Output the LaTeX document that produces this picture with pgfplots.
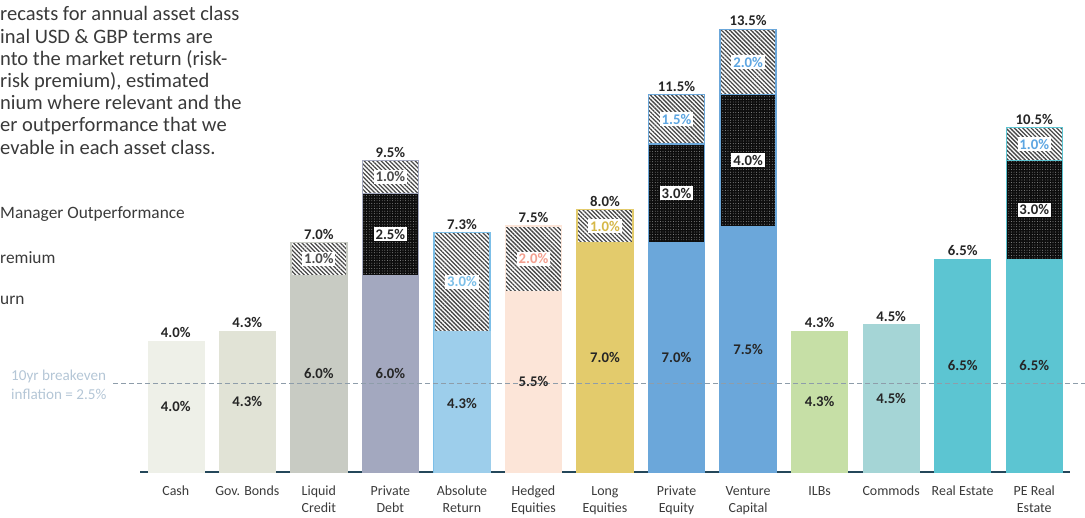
\documentclass[border=0pt]{standalone}
\usepackage{pgfplots}
\pgfplotsset{compat=1.18}
\usepackage{fontspec}
\setmainfont{Carlito}
\usetikzlibrary{patterns.meta}
\definecolor{cCash}{HTML}{EEF0E8}
\definecolor{cGov}{HTML}{E1E3D6}
\definecolor{cLiq}{HTML}{C8CBC3}
\definecolor{cPD}{HTML}{A3A8BF}
\definecolor{cAbs}{HTML}{9DCEEB}
\definecolor{cAbsB}{HTML}{7CBFE8}
\definecolor{cHed}{HTML}{FCE5D8}
\definecolor{cLong}{HTML}{E3CB6C}
\definecolor{cPE}{HTML}{6BA7DA}
\definecolor{cILB}{HTML}{C6DFA6}
\definecolor{cCom}{HTML}{A5D5D6}
\definecolor{cRE}{HTML}{5CC5D2}
\definecolor{cTxt}{HTML}{3A3A3A}
\definecolor{cBE}{HTML}{B4C6D6}
\definecolor{cDash}{HTML}{8E9DAA}
\definecolor{cAxis}{HTML}{24475A}
\definecolor{cSalmon}{HTML}{F4A090}
\definecolor{cGold}{HTML}{D6B848}
\definecolor{cBlueLab}{HTML}{5DA6E2}
\begin{document}
\begin{tikzpicture}[x=1bp,y=1bp]
\useasboundingbox (0,0) rectangle (1085,518);
% left paragraph (cropped in the original)
\begin{scope}[every node/.style={anchor=base west, inner sep=0pt, text=cTxt, font=\fontsize{20.6}{22}\selectfont}]
\node at (0,{518-21}) {recasts for annual asset class};
\node at (0,{518-43.2}) {inal USD \& GBP terms are};
\node at (0,{518-65.4}) {nto the market return (risk-};
\node at (0,{518-87.6}) {risk premium), estimated};
\node at (0,{518-109.8}) {nium where relevant and the};
\node at (0,{518-132}) {er outperformance that we};
\node at (0,{518-154.2}) {evable in each asset class.};
\end{scope}
\begin{scope}[every node/.style={anchor=base west, inner sep=0pt, text=cTxt, font=\fontsize{17.4}{22}\selectfont}]
\node at (0,{518-219}) {Manager Outperformance};
\node at (0,{518-264}) {remium};
\node at (0,{518-305}) {urn};
\end{scope}
\node[anchor=base west, inner sep=0pt, text=cBE, font=\fontsize{15.2}{17}\selectfont] at (11,{518-381}) {10yr breakeven};
\node[anchor=base west, inner sep=0pt, text=cBE, font=\fontsize{15.2}{17}\selectfont] at (11,{518-400}) {inflation = 2.5\%};
\begin{axis}[
  at={(140bp,46bp)}, anchor=south west,
  scale only axis, width=930bp, height=459.2bp,
  xmin=-0.5, xmax=12.5, ymin=0, ymax=14,
  axis x line=bottom, axis y line=none,
  x axis line style={-, draw=cAxis, line width=2bp},
  ytick=\empty,
  xtick={0,...,12},
  major tick length=0pt,
  xticklabels={Cash, Gov. Bonds, {Liquid\\Credit}, {Private\\Debt}, {Absolute\\Return}, {Hedged\\Equities}, {Long\\Equities}, {Private\\Equity}, {Venture\\Capital}, ILBs, Commods, Real Estate, {PE Real\\Estate}},
  typeset ticklabels with strut,
  xticklabel style={font=\fontsize{14}{17}\selectfont, text=cTxt, align=center, yshift=-8bp},
  ybar, bar width=56bp, bar shift=0pt,
  clip=false,
  hatch/.style={draw=#1, line width=1.3bp, pattern={Lines[angle=-45,distance=3bp,line width=1.3bp]}, pattern color=black!72},
  blk/.style={draw=#1, line width=1.3bp, fill=black!95, postaction={pattern={Dots[radius=0.45bp,distance=2.6bp]}, pattern color=gray!70}},
  base/.style={draw=#1, line width=0.5bp, fill=#1},
]
% Manager outperformance (total height)
\addplot[hatch=cLiq] coordinates {(2,7.0)};
\addplot[hatch=cPD] coordinates {(3,9.5)};
\addplot[hatch=cAbsB] coordinates {(4,7.3)};
\addplot[hatch=cHed] coordinates {(5,7.5)};
\addplot[hatch=cLong] coordinates {(6,8.0)};
\addplot[hatch=cPE] coordinates {(7,11.5)};
\addplot[hatch=cPE] coordinates {(8,13.5)};
\addplot[hatch=cRE] coordinates {(12,10.5)};
% Risk premium (base + premium)
\addplot[blk=cPD] coordinates {(3,8.5)};
\addplot[blk=cPE] coordinates {(7,10.0)};
\addplot[blk=cPE] coordinates {(8,11.5)};
\addplot[blk=cRE] coordinates {(12,9.5)};
% Market return
\addplot[base=cCash] coordinates {(0,4.0)};
\addplot[base=cGov] coordinates {(1,4.3)};
\addplot[base=cLiq] coordinates {(2,6.0)};
\addplot[base=cPD] coordinates {(3,6.0)};
\addplot[base=cAbs] coordinates {(4,4.3)};
\addplot[base=cHed] coordinates {(5,5.5)};
\addplot[base=cLong] coordinates {(6,7.0)};
\addplot[base=cPE] coordinates {(7,7.0)};
\addplot[base=cPE] coordinates {(8,7.5)};
\addplot[base=cILB] coordinates {(9,4.3)};
\addplot[base=cCom] coordinates {(10,4.5)};
\addplot[base=cRE] coordinates {(11,6.5)};
\addplot[base=cRE] coordinates {(12,6.5)};
% breakeven inflation line
\addplot[sharp plot, draw=cDash, line width=1.5bp, dash pattern=on 5bp off 3bp] coordinates {(-0.877,2.7) (12.71,2.7)};
% labels
\tikzset{tot/.style={anchor=south, font=\fontsize{14.8}{17}\selectfont\bfseries, text=black!85, inner sep=3bp},
         inl/.style={font=\fontsize{14.8}{17}\selectfont\bfseries, text=black!85, inner sep=0pt},
         box/.style={font=\fontsize{14.8}{17}\selectfont\bfseries, fill=white, inner sep=1.8bp}}
\node[tot] at (axis cs:0,4.0) {4.0\%};
\node[tot] at (axis cs:1,4.3) {4.3\%};
\node[tot] at (axis cs:2,7.0) {7.0\%};
\node[tot] at (axis cs:3,9.5) {9.5\%};
\node[tot] at (axis cs:4,7.3) {7.3\%};
\node[tot] at (axis cs:5,7.5) {7.5\%};
\node[tot] at (axis cs:6,8.0) {8.0\%};
\node[tot] at (axis cs:7,11.5) {11.5\%};
\node[tot] at (axis cs:8,13.5) {13.5\%};
\node[tot] at (axis cs:9,4.3) {4.3\%};
\node[tot] at (axis cs:10,4.5) {4.5\%};
\node[tot] at (axis cs:11,6.5) {6.5\%};
\node[tot] at (axis cs:12,10.5) {10.5\%};
% market return labels
\node[inl] at (axis cs:0,2.0) {4.0\%};
\node[inl] at (axis cs:1,2.15) {4.3\%};
\node[inl] at (axis cs:2,3.0) {6.0\%};
\node[inl] at (axis cs:3,3.0) {6.0\%};
\node[inl] at (axis cs:4,2.1) {4.3\%};
\node[inl] at (axis cs:5,2.75) {5.5\%};
\node[inl] at (axis cs:6,3.5) {7.0\%};
\node[inl] at (axis cs:7,3.5) {7.0\%};
\node[inl] at (axis cs:8,3.75) {7.5\%};
\node[inl] at (axis cs:9,2.15) {4.3\%};
\node[inl] at (axis cs:10,2.25) {4.5\%};
\node[inl] at (axis cs:11,3.25) {6.5\%};
\node[inl] at (axis cs:12,3.25) {6.5\%};
% risk premium labels
\node[box, text=black!85] at (axis cs:3,7.25) {2.5\%};
\node[box, text=black!85] at (axis cs:7,8.5) {3.0\%};
\node[box, text=black!85] at (axis cs:8,9.5) {4.0\%};
\node[box, text=black!85] at (axis cs:12,8.0) {3.0\%};
% manager outperformance labels
\node[box, text=black!70] at (axis cs:2,6.5) {1.0\%};
\node[box, text=black!70] at (axis cs:3,9.0) {1.0\%};
\node[box, text=cAbsB] at (axis cs:4,5.8) {3.0\%};
\node[box, text=cSalmon] at (axis cs:5,6.5) {2.0\%};
\node[box, text=cGold] at (axis cs:6,7.5) {1.0\%};
\node[box, text=cBlueLab] at (axis cs:7,10.75) {1.5\%};
\node[box, text=cBlueLab] at (axis cs:8,12.5) {2.0\%};
\node[box, text=cBlueLab] at (axis cs:12,10.0) {1.0\%};
\end{axis}
\end{tikzpicture}
\end{document}
